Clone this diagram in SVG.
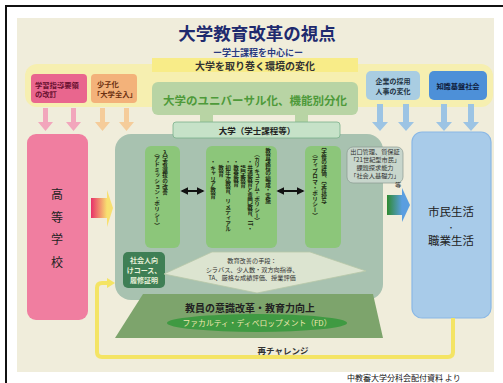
<svg xmlns="http://www.w3.org/2000/svg" width="503" height="383" viewBox="0 0 503 383">
<style>
text{font-family:"Noto Sans CJK JP","Noto Sans",sans-serif;}
.b{font-weight:700;}
.v{writing-mode:vertical-rl;font-size:5.6px;font-weight:700;fill:#1e2a14;}
.col{fill:#8cc67a;}
.tiny{font-size:6.2px;fill:#333;text-anchor:middle;}
</style>
<defs>
<linearGradient id="gPY" x1="0" x2="1" y1="0" y2="0"><stop offset="0" stop-color="#e8306a"/><stop offset="1" stop-color="#f8e070"/></linearGradient>
<linearGradient id="gGB" x1="0" x2="1" y1="0" y2="0"><stop offset="0" stop-color="#2f8a30"/><stop offset="1" stop-color="#5a9ee0"/></linearGradient>
<marker id="ah" viewBox="0 0 10 10" refX="8" refY="5" markerWidth="4" markerHeight="4" orient="auto-start-reverse"><path d="M0,0 L10,5 L0,10 Z" fill="#111"/></marker>
</defs>

<!-- frame and background -->
<rect x="0" y="0" width="503" height="383" fill="#fff"/>
<path d="M6,383 V6 H503" fill="none" stroke="#111" stroke-width="2"/>
<rect x="17" y="18" width="477" height="354" fill="#f0eddb"/>

<!-- title -->
<text x="257" y="40" text-anchor="middle" font-size="17.5" class="b" fill="#1e2a6e">大学教育改革の視点</text>
<text x="258" y="55.5" text-anchor="middle" font-size="9" class="b" fill="#2a3a80">ー学士課程を中心にー</text>

<!-- environment band -->
<rect x="25" y="64" width="468" height="43" rx="12" fill="#f6efb0"/>
<rect x="152" y="58" width="206" height="14" fill="#f8ec88"/>
<text x="255" y="70" text-anchor="middle" font-size="10" class="b" fill="#333">大学を取り巻く環境の変化</text>

<g id="box-shidou">
<rect x="31" y="74" width="56" height="29" rx="4" fill="#e9668e"/>
<text x="35" y="88" font-size="7.3" class="b" fill="#6a1030">学習指導要領</text>
<text x="35" y="97" font-size="7.3" class="b" fill="#6a1030">の改訂</text>
</g>
<g id="box-shoushika">
<rect x="91" y="74" width="46" height="29" rx="4" fill="#f3b27a"/>
<text x="97" y="87" font-size="7.3" class="b" fill="#6a3010">少子化</text>
<text x="93" y="97" font-size="7.3" class="b" fill="#6a3010">「大学全入」</text>
</g>
<g id="box-kigyou">
<rect x="366" y="71" width="54" height="29" rx="5" fill="#a9cde2"/>
<text x="393" y="84" text-anchor="middle" font-size="7" class="b" fill="#223344">企業の採用</text>
<text x="393" y="94" text-anchor="middle" font-size="7" class="b" fill="#223344">人事の変化</text>
</g>
<g id="box-chishiki">
<rect x="429" y="71" width="58" height="29" rx="5" fill="#4d90d8"/>
<text x="458" y="88.5" text-anchor="middle" font-size="7.2" class="b" fill="#102040">知識基盤社会</text>
</g>

<g id="box-universal">
<rect x="152" y="82" width="206" height="33" rx="6" fill="#b8d4a4"/>
<text x="255" y="105" text-anchor="middle" font-size="11.5" fill="#4e9a3a" class="b">大学のユニバーサル化、機能別分化</text>
</g>

<!-- connectors -->
<g id="connectors">
<g fill="#f2a6bc">
<path d="M43,108 h5 v14 h5 l-7.5,9 l-7.5,-9 h5 z"/>
<path d="M71,108 h5 v14 h5 l-7.5,9 l-7.5,-9 h5 z"/>
</g>
<g fill="#f5cc9a">
<path d="M100,108 h5 v14 h5 l-7.5,9 l-7.5,-9 h5 z"/>
<path d="M124,108 h5 v14 h5 l-7.5,9 l-7.5,-9 h5 z"/>
</g>
<g fill="#9cc4e4">
<path d="M377,104 h6 v18 h5 l-8,9 l-8,-9 h5 z"/>
<path d="M403,104 h6 v18 h5 l-8,9 l-8,-9 h5 z"/>
<path d="M441,104 h6 v18 h5 l-8,9 l-8,-9 h5 z"/>
<path d="M468,104 h6 v18 h5 l-8,9 l-8,-9 h5 z"/>
</g>
<rect x="200" y="114" width="13" height="10" fill="#b8d4a4"/>
<rect x="295" y="114" width="13" height="10" fill="#b8d4a4"/>
</g>

<g id="koukou">
<rect x="27" y="134" width="61" height="186" rx="9" fill="#f07ea0"/>
<g font-size="12" fill="#222" text-anchor="middle">
<text x="57" y="199">高</text>
<text x="57" y="222">等</text>
<text x="57" y="244">学</text>
<text x="57" y="267">校</text>
</g>
</g>

<g id="shimin">
<rect x="412" y="132" width="79" height="186" rx="10" fill="#a8cbe9" stroke="#8ab8e6" stroke-width="1.2"/>
<g fill="#222" text-anchor="middle">
<text x="451" y="216" font-size="11.5">市民生活</text>
<text x="451" y="229.5" font-size="7">・</text>
<text x="451" y="245" font-size="11.5">職業生活</text>
</g>
</g>

<g id="daigaku-area">
<rect x="115" y="134" width="268" height="166" rx="16" fill="#a8c2b0"/>
</g>

<g id="daigaku-label">
<rect x="173" y="122" width="167" height="16" rx="3" fill="#c6e2c8" stroke="#7ab08a" stroke-width="0.8"/>
<text x="257" y="134" text-anchor="middle" font-size="8.5" class="b" fill="#222">大学（学士課程等）</text>
</g>

<g id="admission">
<rect class="col" x="145" y="146" width="35" height="102" rx="6"/>
<text class="v" x="165" y="150">入学者選抜の改善</text>
<text class="v" x="157" y="150">（アドミッション・ポリシー）</text>
</g>

<g id="curriculum">
<rect class="col" x="206" y="146" width="71" height="102" rx="6"/>
<text class="v" x="268" y="148">教育課程の編成・実施</text>
<text class="v" x="257" y="151">（カリキュラム・ポリシー）</text>
<text class="v" x="250" y="159">・共通教育と専門教育、IT・</text>
<text class="v" x="243" y="165">語学教育</text>
<text class="v" x="236" y="159">・教養教育</text>
<text class="v" x="228" y="159">・初年次教育、リメディアル</text>
<text class="v" x="221" y="165">教育</text>
<text class="v" x="213" y="159">・キャリア教育</text>
</g>

<g id="diploma">
<rect class="col" x="305" y="146" width="36" height="102" rx="6"/>
<text class="v" x="324" y="148">学修の評価、学位授与</text>
<text class="v" x="315" y="151">（ディプロマ・ポリシー）</text>
</g>

<g id="deguchi">
<rect x="347" y="147" width="56" height="36" rx="6" fill="#c8d6cc" stroke="#8a9a90" stroke-width="0.7"/>
<text class="tiny" x="375" y="154">出口管理、質保証</text>
<text class="tiny" x="375" y="162">「21世紀型市民」</text>
<text class="tiny" x="375" y="170">課題探求能力</text>
<text class="tiny" x="375" y="178">「社会人基礎力」</text>
<text class="tiny" x="398" y="187">等</text>
</g>

<g id="shakaijin">
<rect x="123" y="252" width="42" height="36" rx="5" fill="#3f7f55"/>
<g font-size="7" class="b" fill="#e8f0d8" text-anchor="middle">
<text x="144" y="263">社会人向</text>
<text x="144" y="273">けコース、</text>
<text x="144" y="283">履修証明</text>
</g>
</g>

<g id="kaizen">
<polygon points="164,274 212,252 310,252 366,271 257,293" fill="#dce4d0" stroke="#b8c8a8" stroke-width="0.8"/>
<text class="tiny" x="252" y="263">教育改善の手段：</text>
<text class="tiny" x="252" y="271.5">シラバス、少人数・双方向指導、</text>
<text class="tiny" x="252" y="280">TA、厳格な成績評価、授業評価</text>
</g>

<g id="fd">
<polygon points="143,294 373,294 383,338 115,338" fill="#7da46c"/>
<text x="250" y="312" text-anchor="middle" font-size="10" class="b" fill="#222">教員の意識改革・教育力向上</text>
<ellipse cx="257" cy="323" rx="90" ry="9" fill="#3f9a42"/>
<text x="257" y="326" text-anchor="middle" font-size="7.8" fill="#f0e8b0">ファカルティ・ディベロップメント（FD）</text>
</g>

<g id="connectors-main">
<line x1="182" y1="191" x2="203" y2="191" stroke="#111" stroke-width="2" marker-start="url(#ah)" marker-end="url(#ah)"/>
<line x1="278" y1="191" x2="303" y2="191" stroke="#111" stroke-width="2" marker-start="url(#ah)" marker-end="url(#ah)"/>
<rect x="91" y="198" width="16" height="20" fill="url(#gPY)"/>
<polygon points="107,190 113,208 107,227" fill="#f8e070"/>
<rect x="387" y="195" width="15" height="20" fill="url(#gGB)"/>
<polygon points="402,188 410,205 402,222" fill="#5a9ee0"/>
<path d="M453,318 V352 Q453,357 448,357 H102 Q97,357 97,352 V288 Q97,283 102,283 H108" fill="none" stroke="#f4e464" stroke-width="4"/>
<polygon points="107,278 115,283 107,288" fill="#f4e464"/>
</g>
<text x="283" y="354" text-anchor="middle" font-size="8.5" class="b" fill="#333">再チャレンジ</text>

<text x="347" y="381" font-size="8" fill="#111">中教審大学分科会配付資料 より</text>
</svg>
